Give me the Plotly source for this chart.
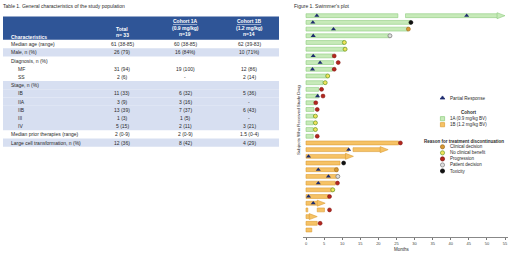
import plotly.graph_objects as go

W, H = 520, 253

# ---------------- Table data ----------------
table_title = "Table 1. General characteristics of the study population"
hdr_first = "Characteristics"
hdr_total = ["Total", "n= 33"]
hdr_1a = ["Cohort 1A", "(0.9 mg/kg)", "n=19"]
hdr_1b = ["Cohort 1B", "(1.2 mg/kg)", "n=14"]

row_labels = ["Median age (range)", "Male, n (%)", "Diagnosis, n (%)", "MF", "SS",
              "Stage, n (%)", "IB", "IIA", "IIB", "III", "IV",
              "Median prior therapies (range)", "Large cell transformation, n (%)"]
row_sub = [0, 0, 0, 1, 1, 0, 1, 1, 1, 1, 1, 0, 0]
total_vals = ["61 (38-85)", "26 (79)", "", "31 (94)", "2 (6)", "", "11 (33)", "3 (9)",
              "13 (39)", "1 (3)", "5 (15)", "2 (0-9)", "12 (36)"]
c1a_vals = ["60 (38-85)", "16 (84%)", "", "19 (100)", "-", "", "6 (32)", "3 (16)",
            "7 (37)", "1 (5)", "2 (11)", "2 (0-9)", "8 (42)"]
c1b_vals = ["62 (39-83)", "10 (71%)", "", "12 (86)", "2 (14)", "", "5 (36)", "-",
            "6 (43)", "-", "3 (21)", "1.5 (0-4)", "4 (29)"]
row_shaded = [0, 1, 0, 0, 0, 1, 1, 1, 1, 1, 1, 0, 1]

# ---------------- Swimmer data ----------------
fig_title = "Figure 1. Swimmer's plot"
n_1a = 19  # rows 0..18 cohort 1A, rows 19..32 cohort 1B
# one entry per bar segment
seg_row = [0, 0, 1, 2, 3, 4, 5, 6, 7, 8, 9, 10, 11, 12, 13, 14, 15, 16, 17, 18,
           19, 20, 20, 21, 22, 23, 24, 25, 26, 27, 28, 29, 29, 30, 31, 32]
seg_start = [0, 27.5, 0, 0, 0, 0, 0, 0, 0, 0, 0, 0, 0, 0, 0, 0, 0, 0, 0, 0,
             0, 0, 13.0, 0, 0, 0, 0, 0, 0, 0, 0, 0, 3.1, 0, 0, 0]
seg_end = [25.4, 55.0, 28.9, 28.2, 23.1, 10.5, 10.7, 7.4, 7.6, 7.3, 5.9, 4.7, 3.5, 3.5,
           2.3, 2.2, 2.1, 2.0, 2.0, 2.0,
           25.6, 11.8, 22.7, 13.1, 9.4, 8.8, 8.8, 8.1, 7.3, 6.2, 5.3, 0.5, 5.1, 3.1, 3.1, 1.6]
seg_arrow = [0, 1, 0, 0, 0, 0, 0, 0, 0, 0, 0, 0, 0, 0, 0, 0, 0, 0, 0, 0,
             0, 0, 1, 1, 0, 0, 0, 0, 0, 0, 1, 0, 0, 1, 0, 0]

pr_row = [0, 0, 1, 2, 3, 6, 7, 8, 12, 20, 21, 23, 24, 25, 27, 28]
pr_month = [3.0, 44.4, 1.9, 7.6, 2.0, 2.0, 3.9, 1.8, 3.2, 11.8, 0.7, 3.4, 6.2, 3.4, 0.7, 2.0]

reasons = ["Clinical decision", "No clinical benefit", "Progression", "Patient decision", "Toxicity"]
disc_row = [1, 2, 3, 4, 5, 6, 7, 8, 9, 10, 11, 12, 13, 14, 15, 16, 17, 18,
            19, 22, 23, 24, 25, 26, 27, 29, 31]
disc_month = [29.0, 28.3, 23.2, 10.6, 10.8, 7.8, 8.9, 7.8, 6.0, 5.3, 4.3, 4.7, 2.7, 3.1,
              2.6, 2.6, 2.6, 3.1, 26.1, 10.4, 8.4, 8.8, 8.7, 7.4, 6.5, 6.5, 3.9]
disc_reason = ["Toxicity", "Clinical decision", "Patient decision", "No clinical benefit",
               "No clinical benefit", "Progression", "Progression", "Progression",
               "No clinical benefit", "No clinical benefit", "Progression", "Progression",
               "Progression", "Progression", "No clinical benefit", "No clinical benefit",
               "No clinical benefit", "Progression", "Progression", "Toxicity",
               "Clinical decision", "Patient decision", "Progression", "No clinical benefit",
               "Progression", "Progression", "Progression"]

legend_pr = "Partial Response"
cohort_title = "Cohort"
cohort_labels = ["1A (0.9 mg/kg BV)", "1B (1.2 mg/kg BV)"]
reason_title = "Reason for treatment discontinuation"
x_title = "Months"
y_title = "Subjects Who Received Study Drug"
x_ticks = [0, 5, 10, 15, 20, 25, 30, 35, 40, 45, 50, 55]

# ---------------- Styles ----------------
FONT = "Liberation Sans, Arial, sans-serif"
TXT = "#2a2a2a"
HDR_BLUE = "#2f5597"
SHADE = "#d7dff1"
COH_STYLE = [("#c7eab9", "#8dcd7d"), ("#f6c265", "#dc9d36")]
REASON_STYLE = {
    "Clinical decision": dict(color="#d89833", line=dict(color="#9a6a1e", width=0.6)),
    "No clinical benefit": dict(color="#f0e35a", line=dict(color="#6f9d2d", width=0.8)),
    "Progression": dict(color="#b3261e", line=dict(color="#7b1410", width=0.5)),
    "Patient decision": dict(color="#dedede", line=dict(color="#7d7d7d", width=0.8)),
    "Toxicity": dict(color="#111111", line=dict(color="#000000", width=0.5)),
}
PR_COLOR = "#1d2b6e"

fig = go.Figure()

# ---------------- Swimmer plot ----------------
ARROW_LEN = 2.2
ARROW_HALF = 0.45
BAR_W = 0.58
for ci, (fc, lc) in enumerate(COH_STYLE):
    idx = [i for i in range(len(seg_row)) if (seg_row[i] >= n_1a) == (ci == 1)]
    ys = [seg_row[i] for i in idx]
    base = [seg_start[i] for i in idx]
    length = [(seg_end[i] - (ARROW_LEN - 0.3 if seg_arrow[i] else 0)) - seg_start[i] for i in idx]
    fig.add_trace(go.Bar(y=ys, x=length, base=base, orientation="h", width=BAR_W,
                         marker=dict(color=fc, line=dict(color=lc, width=0.6)),
                         xaxis="x", yaxis="y", showlegend=False, hoverinfo="skip"))
    ax, ay = [], []
    for i in idx:
        if seg_arrow[i]:
            e, r = seg_end[i], seg_row[i]
            ax += [e - ARROW_LEN, e, e - ARROW_LEN, e - ARROW_LEN, None]
            ay += [r - ARROW_HALF, r, r + ARROW_HALF, r - ARROW_HALF, None]
    if ax:
        fig.add_trace(go.Scatter(x=ax, y=ay, mode="lines", fill="toself", fillcolor=fc,
                                 line=dict(color=lc, width=0.6), xaxis="x", yaxis="y",
                                 showlegend=False, hoverinfo="skip"))

fig.add_trace(go.Scatter(x=pr_month, y=pr_row, mode="markers",
                         marker=dict(symbol="triangle-up", size=4.4, color=PR_COLOR),
                         xaxis="x", yaxis="y", showlegend=False, hoverinfo="skip"))

for rs in reasons:
    xs = [disc_month[i] for i in range(len(disc_row)) if disc_reason[i] == rs]
    ys = [disc_row[i] for i in range(len(disc_row)) if disc_reason[i] == rs]
    fig.add_trace(go.Scatter(x=xs, y=ys, mode="markers",
                             marker=dict(symbol="circle", size=4.0, **REASON_STYLE[rs]),
                             xaxis="x", yaxis="y", showlegend=False, hoverinfo="skip"))

# ---------------- Pixel-space helpers ----------------
def ann(x, y, text, size=5, anchor="left", color=TXT, bold=False, angle=0):
    if bold:
        text = "<b>" + text + "</b>"
    fig.add_annotation(x=x, y=y, xref="x3", yref="y3", text=text, showarrow=False,
                       xanchor=anchor, yanchor="middle", textangle=angle,
                       font=dict(family=FONT, size=size, color=color), borderpad=0)

def rect(x0, y0, x1, y1, color):
    fig.add_shape(type="rect", xref="x3", yref="y3", x0=x0, y0=y0, x1=x1, y1=y1,
                  fillcolor=color, line=dict(width=0), layer="below")

# ---------------- Table ----------------
TBL_L, TBL_R = 3, 279
HDR_T, HDR_B = 16.5, 39.8
ROW0_Y, ROW_H = 44.2, 8.2
COL_X = [10, 122, 185, 249]
SUB_X = 17

ann(2, 5.7, table_title, size=5)
rect(TBL_L, HDR_T, TBL_R, HDR_B, HDR_BLUE)
ann(COL_X[0], 37, hdr_first, size=5, color="white", bold=True)
for k, t in enumerate(hdr_total):
    ann(COL_X[1], 28.5 + 6.6 * k, t, size=5, anchor="center", color="white", bold=True)
for col, hdr in ((2, hdr_1a), (3, hdr_1b)):
    for k, t in enumerate(hdr):
        txt = "<u>" + t + "</u>" if k == 0 else t
        ann(COL_X[col], 20.8 + 6.8 * k, txt, size=5, anchor="center", color="white", bold=True)

for i, lab in enumerate(row_labels):
    yc = ROW0_Y + ROW_H * i
    if row_shaded[i]:
        rect(TBL_L, yc - ROW_H / 2, TBL_R, yc + ROW_H / 2, SHADE)
    ann(SUB_X if row_sub[i] else COL_X[0], yc, lab, size=5)
    for col, vals in ((1, total_vals), (2, c1a_vals), (3, c1b_vals)):
        if vals[i]:
            ann(COL_X[col], yc, vals[i], size=5, anchor="center")

# ---------------- Swimmer titles & legend ----------------
ann(293, 5.7, fig_title, size=5)
ann(298, 120, y_title, size=4.4, anchor="center", angle=-90)
ann(402, 249, x_title, size=4.5, anchor="center")

LX_M, LX_T = 442.5, 449.3
lg_x, lg_y, lg_sym, lg_col, lg_line = [], [], [], [], []
lg_x.append(LX_M); lg_y.append(98); lg_sym.append("triangle-up"); lg_col.append(PR_COLOR); lg_line.append(PR_COLOR)
ann(LX_T, 98, legend_pr, size=4.6)
ann(469, 112.7, cohort_title, size=4.6, anchor="center", bold=True)
for k, lab in enumerate(cohort_labels):
    yy = 118.7 + 6.0 * k
    lg_x.append(LX_M); lg_y.append(yy); lg_sym.append("square")
    lg_col.append(COH_STYLE[k][0]); lg_line.append(COH_STYLE[k][1])
    ann(LX_T, yy, lab, size=4.5)
ann(464, 141.3, reason_title, size=4.5, anchor="center", bold=True)
for k, rs in enumerate(reasons):
    yy = 146.8 + 6.05 * k
    lg_x.append(LX_M); lg_y.append(yy); lg_sym.append("circle")
    lg_col.append(REASON_STYLE[rs]["color"]); lg_line.append(REASON_STYLE[rs]["line"]["color"])
    ann(LX_T, yy, rs, size=4.5)
fig.add_trace(go.Scatter(x=lg_x, y=lg_y, mode="markers", xaxis="x3", yaxis="y3",
                         marker=dict(symbol=lg_sym, size=4.2, color=lg_col,
                                     line=dict(color=lg_line, width=0.7)),
                         showlegend=False, hoverinfo="skip"))

# ---------------- Layout ----------------
x0_px, x1_px = 303, 508
y_top_px, y_bot_px = 12, 237.3
ppu = (505 - 306) / 55.0
row_px = (230 - 15.7) / 32
fig.update_layout(
    width=W, height=H, margin=dict(l=0, r=0, t=0, b=0),
    paper_bgcolor="white", plot_bgcolor="rgba(0,0,0,0)",
    barmode="overlay", showlegend=False,
    font=dict(family=FONT, size=5, color=TXT),
    xaxis=dict(domain=[x0_px / W, x1_px / W],
               range=[-(306 - x0_px) / ppu, (x1_px - 306) / ppu],
               anchor="y", tickvals=x_ticks, ticks="outside", ticklen=2, tickwidth=0.6,
               tickcolor="#777", showline=True, linecolor="#888", linewidth=0.6,
               tickfont=dict(size=4, color="#444"), showgrid=False, zeroline=False,
               fixedrange=True),
    yaxis=dict(domain=[1 - y_bot_px / H, 1 - y_top_px / H],
               range=[(y_bot_px - 15.7) / row_px, (y_top_px - 15.7) / row_px],
               anchor="x", visible=False, fixedrange=True),
    xaxis3=dict(domain=[0, 1], range=[0, W], anchor="y3", visible=False, fixedrange=True),
    yaxis3=dict(domain=[0, 1], range=[H, 0], anchor="x3", visible=False, fixedrange=True),
)

fig.write_html("out.html", config={"displayModeBar": False},
               post_script="document.body.style.margin='0';document.body.style.overflow='hidden';")
